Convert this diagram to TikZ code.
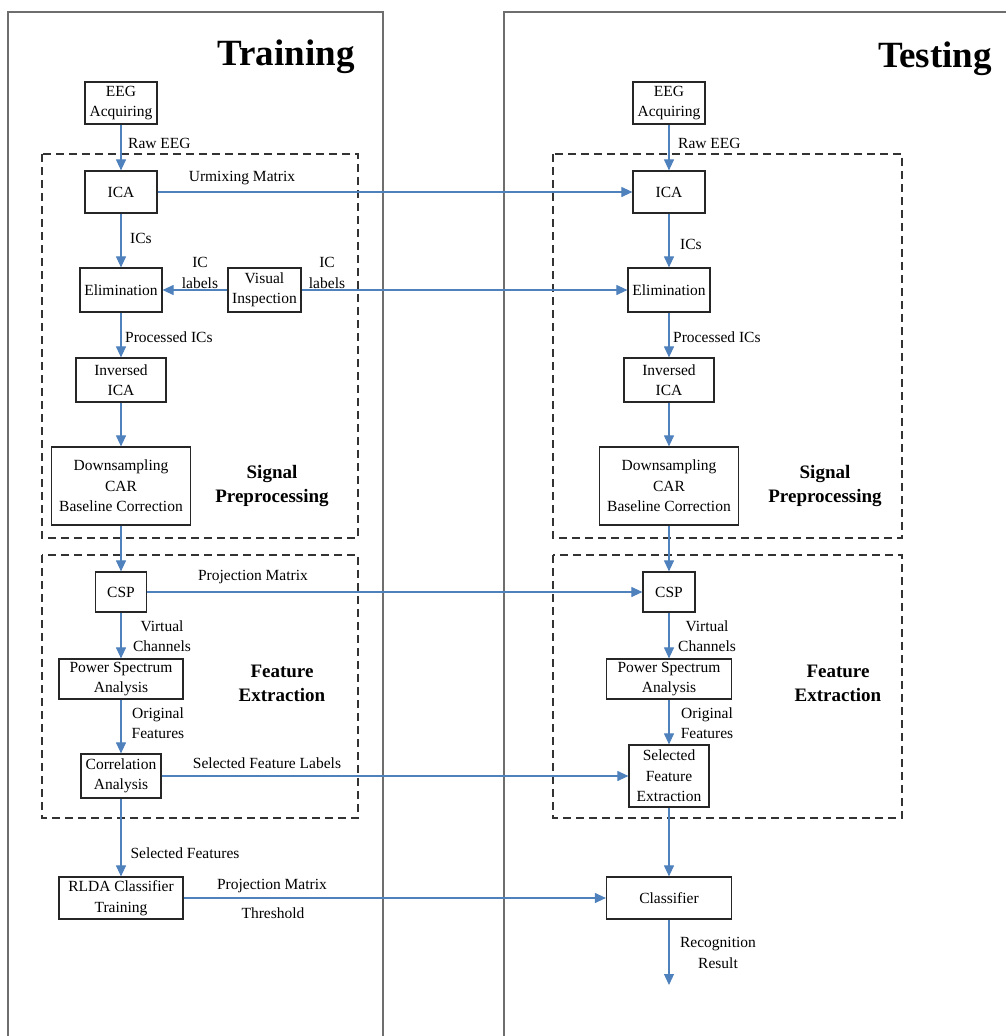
\documentclass[tikz,border=0pt]{standalone}
\usepackage{fontspec}
\setmainfont{Liberation Serif}
\usetikzlibrary{arrows.meta}
\definecolor{arrowblue}{RGB}{79,129,189}
\definecolor{panelgray}{RGB}{110,110,110}
\begin{document}
\begin{tikzpicture}[x=1pt,y=-1pt,
  box/.style={draw=black!85,line width=1.2pt,fill=white,align=center,inner sep=0pt,font=\fontsize{15.5}{20.5}\selectfont},
  lbl/.style={align=center,inner sep=0pt,font=\fontsize{15.5}{20.5}\selectfont},
  ttl/.style={font=\fontsize{37}{40}\selectfont\bfseries,inner sep=0pt,anchor=base},
  grp/.style={align=center,inner sep=0pt,font=\fontsize{19}{24}\selectfont\bfseries},
  flow/.style={draw=arrowblue,line width=1.1pt,-{Triangle[length=11pt,width=10pt]}},
  panel/.style={draw=panelgray,line width=1.4pt},
  dbox/.style={draw=black!80,line width=1.4pt,dash pattern=on 8pt off 5pt}]
\useasboundingbox (0,0) rectangle (1006,1036);
% panels
\draw[panel] (8,1036) -- (8,12) -- (383,12) -- (383,1036);
\draw[panel] (504,1036) -- (504,12) -- (1006,12);
% group boxes
\draw[dbox] (42,154) rectangle (358,538);
\draw[dbox] (42,555) rectangle (358,818);
\draw[dbox] (553,154) rectangle (902,538);
\draw[dbox] (553,555) rectangle (902,818);
% titles
\node[ttl] (trainT) at (286,65) {Training};
\node[ttl] (testT) at (935,67) {Testing};
% left nodes
\node[box,minimum width=72pt,minimum height=42pt] (eegL) at (121,103) {EEG\\Acquiring};
\node[box,minimum width=72pt,minimum height=42pt] (icaL) at (121,192) {ICA};
\node[box,minimum width=82pt,minimum height=44pt] (elimL) at (121,290) {Elimination};
\node[box,minimum width=73pt,minimum height=44pt] (visL) at (264.5,290) {Visual\\Inspection};
\node[box,minimum width=90pt,minimum height=44pt] (invL) at (121,380) {Inversed\\ICA};
\node[box,minimum width=139pt,minimum height=78pt] (downL) at (121,486) {Downsampling\\CAR\\Baseline Correction};
\node[box,minimum width=51pt,minimum height=40pt] (cspL) at (121,592) {CSP};
\node[box,minimum width=124pt,minimum height=40pt] (powL) at (121,679) {Power Spectrum\\Analysis};
\node[box,minimum width=80pt,minimum height=44pt] (corL) at (121,776) {Correlation\\Analysis};
\node[box,minimum width=124pt,minimum height=42pt] (rldaL) at (121,898) {RLDA Classifier\\Training};
% right nodes
\node[box,minimum width=72pt,minimum height=42pt] (eegR) at (669,103) {EEG\\Acquiring};
\node[box,minimum width=72pt,minimum height=42pt] (icaR) at (669,192) {ICA};
\node[box,minimum width=82pt,minimum height=44pt] (elimR) at (669,290) {Elimination};
\node[box,minimum width=90pt,minimum height=44pt] (invR) at (669,380) {Inversed\\ICA};
\node[box,minimum width=139pt,minimum height=78pt] (downR) at (669,486) {Downsampling\\CAR\\Baseline Correction};
\node[box,minimum width=52pt,minimum height=40pt] (cspR) at (669,592) {CSP};
\node[box,minimum width=125pt,minimum height=40pt] (powR) at (669,679) {Power Spectrum\\Analysis};
\node[box,minimum width=80pt,minimum height=62pt] (sfeR) at (669,776) {Selected\\Feature\\Extraction};
\node[box,minimum width=125pt,minimum height=42pt] (clsR) at (669,898) {Classifier};
\coordinate (outR) at (669,985);
% labels left
\node[lbl,anchor=west] (rawL) at (128,143) {Raw EEG};
\node[lbl] (umx) at (242,178) {Urmixing Matrix};
\node[lbl,anchor=west] (icsL) at (130,238) {ICs};
\node[lbl] (iclL) at (200,273) {IC\\labels};
\node[lbl] (iclR) at (327,273) {IC\\labels};
\node[lbl,anchor=west] (procL) at (125,337) {Processed ICs};
\node[grp] (sigL) at (272,486) {Signal\\Preprocessing};
\node[lbl] (projL1) at (253,577) {Projection Matrix};
\node[lbl] (vcL) at (162,636) {Virtual\\Channels};
\node[grp] (feL) at (282,683) {Feature\\Extraction};
\node[lbl] (ofL) at (158,723) {Original\\Features};
\node[lbl] (sflL) at (267,763) {Selected Feature Labels};
\node[lbl] (sfL) at (185,853) {Selected Features};
\node[lbl] (projL2) at (272,886) {Projection Matrix};
\node[lbl] (thr) at (273,913) {Threshold};
% labels right
\node[lbl,anchor=west] (rawR) at (678,143) {Raw EEG};
\node[lbl,anchor=west] (icsR) at (680,244) {ICs};
\node[lbl,anchor=west] (procR) at (673,337) {Processed ICs};
\node[grp] (sigR) at (825,486) {Signal\\Preprocessing};
\node[lbl] (vcR) at (707,636) {Virtual\\Channels};
\node[grp] (feR) at (838,683) {Feature\\Extraction};
\node[lbl] (ofR) at (707,723) {Original\\Features};
\node[lbl] (recR) at (718,953) {Recognition\\Result};
% left flow
\draw[flow] (eegL) -- (icaL);
\draw[flow] (icaL) -- (elimL);
\draw[flow] (visL) -- (elimL);
\draw[flow] (elimL) -- (invL);
\draw[flow] (invL) -- (downL);
\draw[flow] (downL) -- (cspL);
\draw[flow] (cspL) -- (powL);
\draw[flow] (powL) -- (corL);
\draw[flow] (corL) -- (rldaL);
% right flow
\draw[flow] (eegR) -- (icaR);
\draw[flow] (icaR) -- (elimR);
\draw[flow] (elimR) -- (invR);
\draw[flow] (invR) -- (downR);
\draw[flow] (downR) -- (cspR);
\draw[flow] (cspR) -- (powR);
\draw[flow] (powR) -- (sfeR);
\draw[flow] (sfeR) -- (clsR);
\draw[flow] (clsR) -- (outR);
% cross flow
\draw[flow] (icaL) -- (icaR);
\draw[flow] (visL) -- (elimR);
\draw[flow] (cspL) -- (cspR);
\draw[flow] (corL) -- (sfeR);
\draw[flow] (rldaL) -- (clsR);
\end{tikzpicture}
\end{document}
